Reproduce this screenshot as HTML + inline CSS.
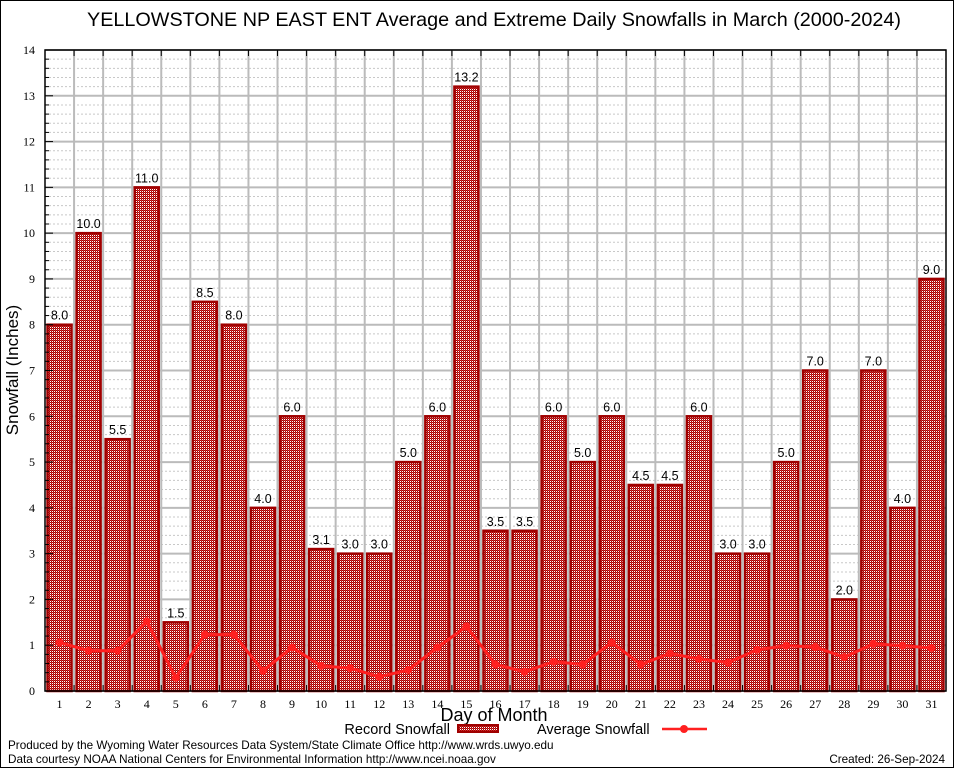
<!DOCTYPE html>
<html><head><meta charset="utf-8">
<style>
html,body{margin:0;padding:0;background:#fff;}
svg{display:block;}
</style></head>
<body>
<svg id="chart" width="954" height="768" xmlns="http://www.w3.org/2000/svg">
<defs>
<pattern id="hatch" width="2" height="2" patternUnits="userSpaceOnUse">
<rect width="2" height="2" fill="#fff"/>
<rect width="1" height="1" fill="#a80000" shape-rendering="crispEdges"/>
<rect x="1" y="1" width="1" height="1" fill="#a80000" shape-rendering="crispEdges"/>
<rect x="1" y="0" width="1" height="1" fill="#c83030" shape-rendering="crispEdges"/>
</pattern>
</defs>
<rect x="0.5" y="0.5" width="953" height="767" fill="#fff" stroke="#000" stroke-width="1"/>
<text x="494" y="26" text-anchor="middle" font-family="Liberation Sans, sans-serif" font-size="19.8">YELLOWSTONE NP EAST ENT Average and Extreme Daily Snowfalls in March (2000-2024)</text>
<g id="grid"></g>
<g id="bars"></g>
<g id="avg"></g>
<g id="axes"></g>
<text transform="translate(18,370) rotate(-90)" text-anchor="middle" font-family="Liberation Sans, sans-serif" font-size="17">Snowfall (Inches)</text>
<text x="494" y="721" text-anchor="middle" font-family="Liberation Sans, sans-serif" font-size="18">Day of Month</text>
<g>
<text x="450" y="734" text-anchor="end" font-family="Liberation Sans, sans-serif" font-size="14.5">Record Snowfall</text>
<rect x="458" y="725" width="40" height="7" fill="url(#hatch)" stroke="#a00000" stroke-width="2"/>
</g>
<g>
<text x="537" y="734" font-family="Liberation Sans, sans-serif" font-size="14.5">Average Snowfall</text>
<line x1="662" y1="729" x2="707" y2="729" stroke="#ff2020" stroke-width="2.5"/>
<circle cx="684" cy="729" r="4" fill="#ff2020"/>
</g>
<text x="8" y="749" font-family="Liberation Sans, sans-serif" font-size="11.7">Produced by the Wyoming Water Resources Data System/State Climate Office http://www.wrds.uwyo.edu</text>
<text x="8" y="763" font-family="Liberation Sans, sans-serif" font-size="11.7">Data courtesy NOAA National Centers for Environmental Information http://www.ncei.noaa.gov</text>
<text x="945" y="763" text-anchor="end" font-family="Liberation Sans, sans-serif" font-size="11.7">Created: 26-Sep-2024</text>
</svg>
<script>
const days = [1,2,3,4,5,6,7,8,9,10,11,12,13,14,15,16,17,18,19,20,21,22,23,24,25,26,27,28,29,30,31];
const recordSnow = [8.0,10.0,5.5,11.0,1.5,8.5,8.0,4.0,6.0,3.1,3.0,3.0,5.0,6.0,13.2,3.5,3.5,6.0,5.0,6.0,4.5,4.5,6.0,3.0,3.0,5.0,7.0,2.0,7.0,4.0,9.0];
const avgSnow = [1.06,0.88,0.88,1.52,0.29,1.23,1.23,0.44,0.95,0.55,0.50,0.31,0.46,0.95,1.41,0.58,0.42,0.64,0.58,1.06,0.58,0.82,0.70,0.62,0.90,0.99,0.96,0.74,1.03,0.99,0.94];
const yTicks = [0,1,2,3,4,5,6,7,8,9,10,11,12,13,14];

const NS="http://www.w3.org/2000/svg";
const L=45,R=946,T=50,B=691,yMax=14;
const slot=(R-L)/days.length;
const xC=i=>L+(i+0.5)*slot;
const yS=v=>B-(v/yMax)*(B-T);
function mk(tag,attrs,parent){const e=document.createElementNS(NS,tag);for(const k in attrs)e.setAttribute(k,attrs[k]);parent.appendChild(e);return e;}
const grid=document.getElementById('grid'),bars=document.getElementById('bars'),avg=document.getElementById('avg'),axes=document.getElementById('axes');

for(let v=0;v<=yMax;v+=0.2){
  const y=yS(v);
  const g=mk('line',{x1:L,x2:R,y1:y,y2:y,stroke:'#c8c8c8','stroke-width':1,'stroke-dasharray':'2,2'},grid);
  
  
}
yTicks.forEach(v=>{
  const y=yS(v);
  const g=mk('line',{x1:L,x2:R,y1:y,y2:y,stroke:'#bbbbbb','stroke-width':2},grid);
  
  
  const t=mk('text',{x:L-10,y:y+4,'text-anchor':'end','font-family':'Liberation Serif, serif','font-size':12},axes);
  t.textContent=v;
  
  
  const tk=mk('line',{x1:L,x2:L+8,y1:y,y2:y,stroke:'#000','stroke-width':1},axes);
  
  
  if(v<yMax){for(let m=1;m<5;m++){const ym=yS(v+m*0.2);const mt=mk('line',{x1:L,x2:L+4,y1:ym,y2:ym,stroke:'#000','stroke-width':1},axes);
    
    }}
});
for(let i=1;i<days.length;i++){
  const x=L+i*slot;
  const g=mk('line',{x1:x,x2:x,y1:T,y2:B,stroke:'#bbbbbb','stroke-width':2},grid);
  
  
  const tk=mk('line',{x1:x,x2:x,y1:T,y2:T+6,stroke:'#000'},axes);
  
  
  const tb=mk('line',{x1:x,x2:x,y1:B-6,y2:B,stroke:'#000'},axes);
  
  
}
days.forEach((d,i)=>{
  const v=recordSnow[i],x=xC(i)-12,y=yS(v);
  const r=mk('rect',{x:x,y:y,width:24,height:B-y,fill:'url(#hatch)',stroke:'#a00000','stroke-width':2.5},bars);
  
  
  const t=mk('text',{x:xC(i),y:y-5,'text-anchor':'middle','font-family':'Liberation Sans, sans-serif','font-size':12.5},bars);
  t.textContent=v.toFixed(1);
  
  
  const xl=mk('text',{x:xC(i),y:B+17,'text-anchor':'middle','font-family':'Liberation Serif, serif','font-size':12},axes);
  xl.textContent=d;
  
  
});
const pts=avgSnow.map((v,i)=>xC(i)+','+yS(v)).join(' ');
const pl=mk('polyline',{points:pts,fill:'none',stroke:'#ff2020','stroke-width':3},avg);


avgSnow.forEach((v,i)=>{
  const c=mk('circle',{cx:xC(i),cy:yS(v),r:4,fill:'#ff2020'},avg);
  
  
});
const fr=mk('rect',{x:L,y:T,width:R-L,height:B-T,fill:'none',stroke:'#000','stroke-width':1.5},axes);


</script>
</body></html>
